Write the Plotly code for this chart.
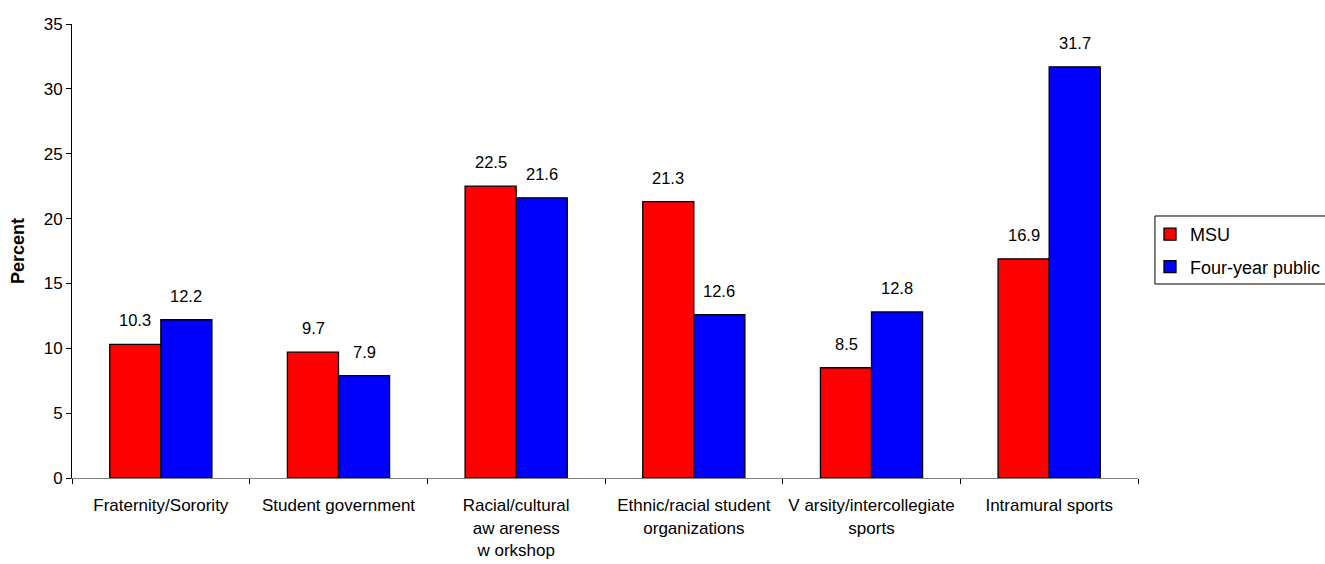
import plotly.graph_objects as go

# Participation in campus activities, percent of students
categories = [
    "Fraternity/Sorority",
    "Student government",
    "Racial/cultural<br>aw areness<br>w orkshop",
    "Ethnic/racial student<br>organizations",
    "V arsity/intercollegiate<br>sports",
    "Intramural sports",
]
msu = [10.3, 9.7, 22.5, 21.3, 8.5, 16.9]
four_year_public = [12.2, 7.9, 21.6, 12.6, 12.8, 31.7]
y_ticks = [0, 5, 10, 15, 20, 25, 30, 35]

FONT = "Liberation Sans, Arial, sans-serif"
W, H = 1325, 564

fig = go.Figure()
fig.add_trace(go.Bar(
    name="MSU", x=categories, y=msu,
    marker=dict(color="#FF0000", line=dict(color="#000000", width=1.3)),
    legendgroup="a",
))
fig.add_trace(go.Bar(
    name="Four-year public", x=categories, y=four_year_public,
    marker=dict(color="#0000FF", line=dict(color="#000000", width=1.3)),
    legendgroup="b",
))

# value labels above each bar, offset half a bar width to the left/right
half_bar = 25.5
for series, shift in ((msu, -half_bar), (four_year_public, half_bar)):
    for cat, val in zip(categories, series):
        fig.add_annotation(
            x=cat, y=val, xref="x", yref="y", text=f"{val:.1f}",
            showarrow=False, xshift=shift, yshift=13, yanchor="bottom",
            font=dict(family=FONT, size=16.5, color="#000000"),
        )

# legend frame, running off the right edge of the page
fig.add_shape(
    type="rect", xref="paper", yref="paper",
    x0=1.0159, x1=1.4, y0=0.4273, y1=0.5771,
    line=dict(color="#000000", width=1), fillcolor="rgba(0,0,0,0)",
)

fig.update_layout(
    width=W, height=H,
    margin=dict(l=72, r=187, t=24, b=86),
    paper_bgcolor="#FFFFFF", plot_bgcolor="#FFFFFF",
    barmode="group", bargap=0.425, bargroupgap=0,
    font=dict(family=FONT, size=17, color="#000000"),
    showlegend=True,
    legend=dict(
        xref="container", yref="container",
        x=1150 / W, y=1 - 216 / H, xanchor="left", yanchor="top",
        borderwidth=0, bgcolor="rgba(0,0,0,0)",
        font=dict(family=FONT, size=18, color="#000000"),
        tracegroupgap=6, itemwidth=30,
    ),
    xaxis=dict(
        type="category", tickson="boundaries", ticks="outside", ticklen=5,
        tickangle=0, automargin=False, ticklabelstandoff=12,
        tickcolor="#000000", showline=True, linecolor="#808080", linewidth=1,
        showgrid=False, tickfont=dict(family=FONT, size=17, color="#000000"),
    ),
    yaxis=dict(
        range=[0, 35], tickvals=y_ticks, ticks="outside", ticklen=5,
        automargin=False,
        tickcolor="#000000", showline=True, linecolor="#000000", linewidth=1,
        showgrid=False, zeroline=False,
        tickfont=dict(family=FONT, size=17, color="#000000"),
        title=dict(text="<b>Percent</b>", standoff=14,
                   font=dict(family=FONT, size=18, color="#000000")),
    ),
)

fig.write_html("out.html")
